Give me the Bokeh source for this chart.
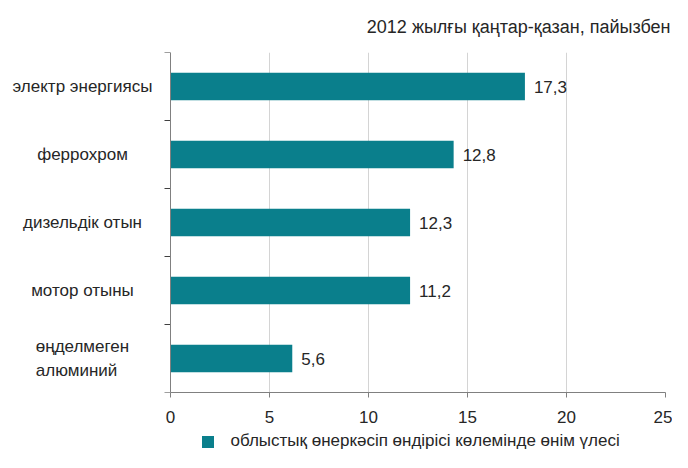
import math
from bokeh.plotting import figure
from bokeh.layouts import column
from bokeh.models import (Range1d, FixedTicker, ColumnDataSource, LabelSet, Span,
                          Legend, LegendItem)
from bokeh.core.properties import value
from bokeh.embed import file_html
from bokeh.resources import INLINE

# ---- data ----
categories = ["электр энергиясы", "феррохром", "дизельдік отын", "мотор отыны",
              "өңделмеген\nалюминий"]
bar_values = [17.9, 14.3, 12.1, 12.1, 6.15]       # bar lengths as drawn
value_labels = ["17,3", "12,8", "12,3", "11,2", "5,6"]  # printed values
x_ticks = [0, 5, 10, 15, 20, 25]
title_text = "2012 жылғы қаңтар-қазан, пайызбен"
legend_text = "облыстық өнеркәсіп өндірісі көлемінде өнім үлесі"

n = len(categories)
ys = [n - i - 0.5 for i in range(n)]
boundaries = list(range(n + 1))

FONT = "Liberation Sans"
FS = "17px"
TXT = "#262626"
AXC = "#808080"
BAR = "#0A7F8C"

W, H = 672, 452
H2 = 22                       # legend strip
H1 = H - H2
BL, BR, BT, BB = 0, 7, 52, 38
XMAX = 25
AXIS_PX = 170                 # pixel position of the value-axis origin
frame_w = W - BL - BR
ppx = (frame_w - AXIS_PX) / XMAX
XMIN = -AXIS_PX / ppx

p = figure(width=W, height=H1, output_backend="svg", toolbar_location=None,
           x_range=Range1d(XMIN, XMAX), y_range=Range1d(0, n),
           y_axis_location=None,
           min_border_left=BL, min_border_right=BR, min_border_top=BT, min_border_bottom=BB)
p.outline_line_color = None
p.background_fill_color = "white"

# title
p.title.text = title_text
p.title.align = "right"
p.title.vertical_align = "top"
p.title.text_font = FONT
p.title.text_font_size = "18px"
p.title.text_font_style = "normal"
p.title.text_color = TXT
p.title.standoff = 27
p.title.offset = -5

# grid
p.xgrid.ticker = FixedTicker(ticks=x_ticks)
p.xgrid.grid_line_color = "#d4d4d4"
p.xgrid.grid_line_width = 1
p.ygrid.grid_line_color = None

src = ColumnDataSource(dict(y=ys, v=bar_values, lab=value_labels, cat=categories))
bars = p.hbar(y="y", left=0, right="v", height=0.405, source=src,
              fill_color=BAR, line_color=None)

# x axis
p.xaxis.ticker = FixedTicker(ticks=x_ticks)
p.xaxis.bounds = (0, XMAX)
p.xaxis.axis_line_color = AXC
p.xaxis.major_tick_line_color = AXC
p.xaxis.major_tick_out = 5
p.xaxis.major_tick_in = 0
p.xaxis.minor_tick_line_color = None
p.xaxis.major_label_text_font = FONT
p.xaxis.major_label_text_font_size = FS
p.xaxis.major_label_text_color = TXT
p.xaxis.major_label_standoff = 13

# category axis line and boundary ticks at value 0
p.add_layout(Span(location=0, dimension="height", line_color=AXC, line_width=1))
p.ray(x=0, y=boundaries, length=6, length_units="screen", angle=math.pi,
      line_color="#404040", line_width=1)

# value labels
p.add_layout(LabelSet(x="v", y="y", text="lab", source=src, x_offset=9,
                      text_baseline="middle", text_font=value(FONT),
                      text_font_size=value(FS), text_color=TXT))

# category labels (centered, left of axis)
cat_x = -88 / ppx
p.add_layout(LabelSet(x=cat_x, y="y", text="cat", source=src,
                      text_align="center", text_baseline="middle", text_font=value(FONT),
                      text_font_size=value(FS), text_color=TXT, text_line_height=1.25))

# ---- legend strip ----
p2 = figure(width=W, height=H2, output_backend="svg", toolbar_location=None,
            x_range=Range1d(0, 1), y_range=Range1d(0, 1),
            x_axis_location=None, y_axis_location=None,
            min_border_left=0, min_border_right=0, min_border_top=0, min_border_bottom=0)
p2.outline_line_color = None
p2.grid.grid_line_color = None
key = p2.hbar(y=[-10], left=[0], right=[1], height=1,
              fill_color=BAR, line_color=None)
legend = Legend(items=[LegendItem(label=legend_text, renderers=[key])],
                location=(199.5, 1), orientation="horizontal",
                glyph_width=15, glyph_height=15, label_height=15, label_width=20,
                label_standoff=16, padding=0, margin=0, spacing=0,
                border_line_color=None, background_fill_alpha=0,
                label_text_font=FONT, label_text_font_size=FS,
                label_text_color=TXT)
p2.add_layout(legend, "center")

layout = column(p, p2, spacing=0)
open("out.html", "w").write(file_html(layout, INLINE))
